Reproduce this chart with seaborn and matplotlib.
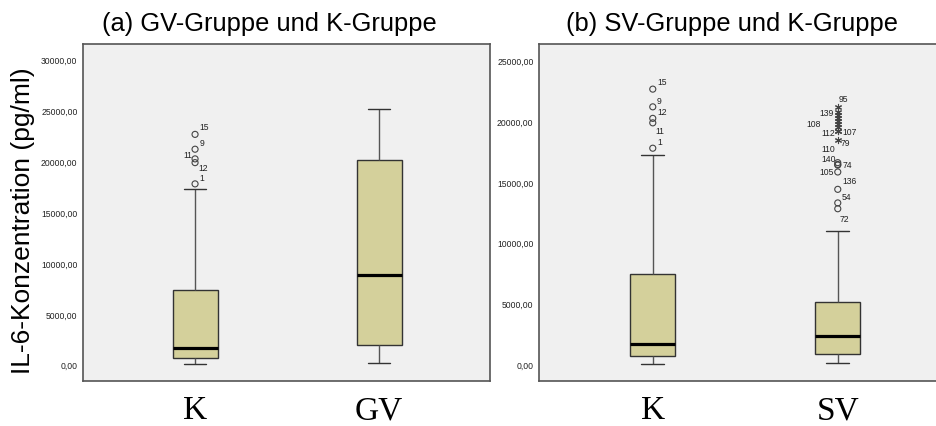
import matplotlib
matplotlib.use("Agg")
import matplotlib.pyplot as plt
import matplotlib.ticker as mticker
import numpy as np
import pandas as pd
import seaborn as sns

# ---------------- data ----------------
panel_a_groups = ["K", "GV"]
panel_b_groups = ["K", "SV"]

# five-number summaries: lower whisker, Q1, median, Q3, upper whisker (pg/ml)
k_summary = [30, 630, 1690, 7400, 17270]
gv_summary = [170, 1940, 8820, 20160, 25150]
sv_summary = [80, 850, 2280, 5150, 10930]

# outliers of group K (same in both panels) with their case numbers
k_outlier_values = [22660, 21200, 20250, 19880, 17790]
k_outlier_ids = ["15", "9", "11", "12", "1"]

# outliers of group SV with case numbers ("" = unlabelled, overlapping)
sv_outlier_values = [21220, 20750, 20500, 20250, 20000, 19750, 19550, 19170,
                     19170, 18430, 16600, 16450, 16400, 15830, 14400, 13280, 12800]
sv_outlier_ids = ["95", "139", "", "", "", "108", "", "112",
                  "107", "79", "110", "140", "74", "105", "136", "54", "72"]

y_ticks_a = [0, 5000, 10000, 15000, 20000, 25000, 30000]
y_ticks_b = [0, 5000, 10000, 15000, 20000, 25000]

titles = ["(a) GV-Gruppe und K-Gruppe", "(b) SV-Gruppe und K-Gruppe"]
y_label = "IL-6-Konzentration (pg/ml)"

# ---------------- styling ----------------
W, H = 936, 427
DPI = 100
BOX_FILL = "#D4D09B"
BG = "#F0F0F0"
EDGE = "#333333"
PX = 72.0 / DPI  # points per pixel

# label offsets in pixels (dx right, dy down) for each outlier label
lab_off_a_k = [(9, -8), (7, -6.5), (-7.6, -4), (8, 5), (7, -6.5)]
lab_off_b_k = [(9, -7.7), (6.3, -6.3), (7.3, 12.2), (9, -11.3), (6.7, -6.7)]
lab_off_b_sv = [(5.8, -7.7), (-11.5, 0), (0, 0), (0, 0), (0, 0), (-24, -0.6), (0, 0),
                (-9.2, 1.3), (11.8, 0), (7.5, 1.6), (-9.2, -14), (-9.2, -5.8),
                (9.2, -0.7), (-10.8, 0), (11.8, -8.4), (8.2, -6.7), (6.8, 9.8)]

sns.set_style("white")
plt.rcParams["font.family"] = ["Liberation Sans", "DejaVu Sans"]

fig = plt.figure(figsize=(W / DPI, H / DPI), dpi=DPI)
ax_a = fig.add_axes([83 / W, 1 - 382 / H, 407 / W, 337 / H])
ax_b = fig.add_axes([539 / W, 1 - 382 / H, (W - 539) / W, 337 / H])


def fmt(v, pos):
    return f"{v:.2f}".replace(".", ",")


def draw_outliers(ax, gi, summ, out_values, out_ids, offsets):
    iqr = summ[3] - summ[1]
    vals = np.asarray(out_values, float)
    extreme = vals > summ[3] + 3 * iqr
    xs = np.full(len(vals), gi, float)
    if (~extreme).any():
        sns.scatterplot(x=xs[~extreme], y=vals[~extreme], ax=ax, marker="o",
                        s=19, facecolors="none", edgecolor="#444444",
                        linewidth=0.8, zorder=5)
    if extreme.any():
        sns.scatterplot(x=xs[extreme], y=vals[extreme], ax=ax, marker=(6, 2, 0),
                        s=20, edgecolor="#444444", color="#444444",
                        linewidth=0.8, zorder=5)
    for v, lab, (dx, dy) in zip(vals, out_ids, offsets):
        if lab:
            ax.annotate(lab, xy=(gi, v), xytext=(dx * PX, -dy * PX),
                        textcoords="offset points", ha="center", va="center",
                        fontsize=6.2, color="#222222", zorder=6)


def draw_panel(ax, groups, summaries, yticks, ylim, xlim):
    df = pd.DataFrame({
        "group": np.repeat(groups, 5),
        "value": np.concatenate([np.asarray(s, float) for s in summaries]),
    })
    sns.boxplot(data=df, x="group", y="value", order=groups, ax=ax,
                width=0.245, color=BOX_FILL, linecolor=EDGE, linewidth=1.0,
                showfliers=False, whis=1.5, saturation=1,
                boxprops=dict(facecolor=BOX_FILL, edgecolor=EDGE, linewidth=1.0),
                medianprops=dict(color="black", linewidth=2.3),
                whiskerprops=dict(color="#555555", linewidth=1.0),
                capprops=dict(color="#333333", linewidth=1.0))
    ax.set_facecolor(BG)
    ax.set_xlim(*xlim)
    ax.set_ylim(*ylim)
    ax.set_yticks(yticks)
    ax.yaxis.set_major_formatter(mticker.FuncFormatter(fmt))
    ax.set_xticks(range(len(groups)))
    ax.set_xticklabels(groups, fontfamily="Liberation Serif", fontsize=24,
                       color="black")
    ax.set_xlabel("")
    ax.set_ylabel("")
    ax.tick_params(axis="y", direction="out", length=3, width=0.8,
                   color="#444444", labelsize=6.2, labelcolor="#222222", pad=1)
    ax.tick_params(axis="x", direction="out", length=4, width=0.8,
                   color="#444444", pad=6)
    for sp in ax.spines.values():
        sp.set_color("#555555")
        sp.set_linewidth(1.2)


draw_panel(ax_a, panel_a_groups, [k_summary, gv_summary],
           y_ticks_a, (-1600, 31550), (-0.609, 1.603))
draw_outliers(ax_a, panel_a_groups.index("K"), k_summary,
              k_outlier_values, k_outlier_ids, lab_off_a_k)

draw_panel(ax_b, panel_b_groups, [k_summary, sv_summary],
           y_ticks_b, (-1400, 26380), (-0.615, 1.531))
draw_outliers(ax_b, panel_b_groups.index("K"), k_summary,
              k_outlier_values, k_outlier_ids, lab_off_b_k)
draw_outliers(ax_b, panel_b_groups.index("SV"), sv_summary,
              sv_outlier_values, sv_outlier_ids, lab_off_b_sv)
ax_b.set_xlim(-0.615, 1.531)
ax_b.spines["right"].set_visible(False)

fig.text(269 / W, 1 - 24 / H, titles[0], ha="center", va="center",
         fontsize=18.4, color="black")
fig.text(732 / W, 1 - 24 / H, titles[1], ha="center", va="center",
         fontsize=18.4, color="black")
fig.text(23 / W, 1 - 221 / H, y_label, rotation=90, ha="center", va="center",
         fontsize=19, color="black")

fig.savefig("out.png", dpi=DPI, facecolor="white")
